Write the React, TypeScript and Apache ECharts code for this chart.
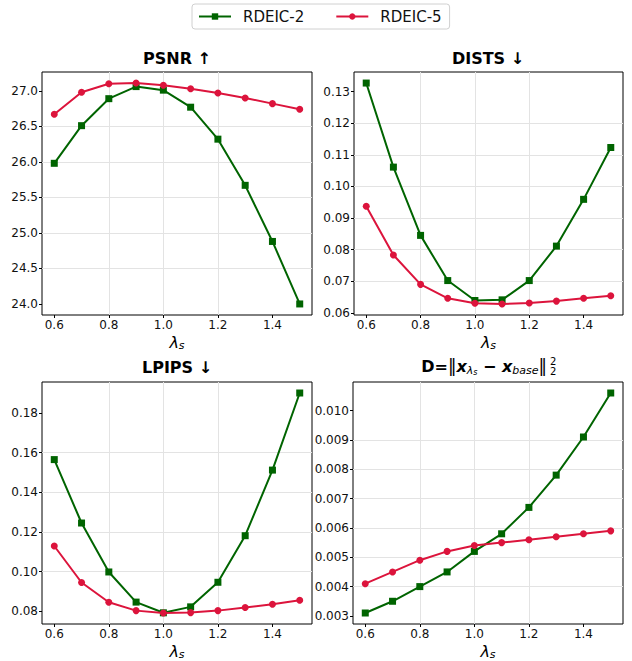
import React, { useEffect, useRef } from "react";
import * as echarts from "echarts";

const lambdas = [0.6, 0.7, 0.8, 0.9, 1.0, 1.1, 1.2, 1.3, 1.4, 1.5];
const seriesNames = ["RDEIC-2", "RDEIC-5"];

const psnr2 = [25.98, 26.51, 26.89, 27.06, 27.01, 26.77, 26.32, 25.67, 24.88, 24.0];
const psnr5 = [26.67, 26.98, 27.1, 27.11, 27.08, 27.03, 26.97, 26.9, 26.82, 26.74];
const dists2 = [0.1327, 0.1061, 0.0845, 0.0702, 0.0639, 0.0641, 0.0702, 0.0811, 0.0959, 0.1123];
const dists5 = [0.0937, 0.0783, 0.069, 0.0646, 0.063, 0.0628, 0.0631, 0.0637, 0.0646, 0.0654];
const lpips2 = [0.1565, 0.1245, 0.0998, 0.0846, 0.0792, 0.0822, 0.0946, 0.1181, 0.1512, 0.1901];
const lpips5 = [0.1129, 0.0945, 0.0845, 0.0803, 0.0791, 0.0793, 0.0803, 0.0819, 0.0835, 0.0855];
const dist2 = [0.0031, 0.0035, 0.004, 0.0045, 0.0052, 0.0058, 0.0067, 0.0078, 0.0091, 0.0106];
const dist5 = [0.0041, 0.0045, 0.0049, 0.0052, 0.0054, 0.0055, 0.0056, 0.0057, 0.0058, 0.0059];

const xTicks = [0.6, 0.8, 1.0, 1.2, 1.4];
const psnrTicks = [24.0, 24.5, 25.0, 25.5, 26.0, 26.5, 27.0];
const distsTicks = [0.06, 0.07, 0.08, 0.09, 0.1, 0.11, 0.12, 0.13];
const lpipsTicks = [0.08, 0.1, 0.12, 0.14, 0.16, 0.18];
const dTicks = [0.003, 0.004, 0.005, 0.006, 0.007, 0.008, 0.009, 0.01];

const panelTitles = ["PSNR ↑", "DISTS ↓", "LPIPS ↓"];

const GREEN = "#006400";
const RED = "#DC143C";
const FONT = "DejaVu Sans";

type Panel = {
  a: number[];
  b: number[];
  ticks: number[];
  decimals: number;
  splitNumber: number;
  grid: { left: number; top: number; width: number; height: number };
};

const panels: Panel[] = [
  { a: psnr2, b: psnr5, ticks: psnrTicks, decimals: 1, splitNumber: 5, grid: { left: 42, top: 72, width: 270, height: 243 } },
  { a: dists2, b: dists5, ticks: distsTicks, decimals: 2, splitNumber: 8, grid: { left: 354, top: 72, width: 269, height: 243 } },
  { a: lpips2, b: lpips5, ticks: lpipsTicks, decimals: 2, splitNumber: 5, grid: { left: 42, top: 382, width: 270, height: 243 } },
  { a: dist2, b: dist5, ticks: dTicks, decimals: 3, splitNumber: 8, grid: { left: 353, top: 382, width: 270, height: 243 } },
];

function buildOption() {
  const xmin0 = Math.min(...lambdas);
  const xmax0 = Math.max(...lambdas);
  const xpad = (xmax0 - xmin0) * 0.05;

  const grids: any[] = [];
  const xAxes: any[] = [];
  const yAxes: any[] = [];
  const series: any[] = [];

  panels.forEach((p, i) => {
    grids.push({ ...p.grid, show: true, borderColor: "#000", borderWidth: 1, backgroundColor: "transparent", containLabel: false });
    xAxes.push({
      type: "value",
      gridIndex: i,
      min: xmin0 - xpad,
      max: xmax0 + xpad,
      splitNumber: 5,
      axisLine: { show: false },
      axisTick: { show: true, length: 3, lineStyle: { color: "#000" }, customValues: xTicks },
      axisLabel: {
        customValues: xTicks,
        formatter: (v: number) => v.toFixed(1),
        fontSize: 12,
        color: "#111",
        fontFamily: FONT,
        margin: 4,
      },
      splitLine: { show: true, showMinLine: false, showMaxLine: false, lineStyle: { color: "#e3e3e3", width: 1 } },
      name: "{l|λ}{s|s}",
      nameLocation: "middle",
      nameGap: 18,
      nameTextStyle: {
        rich: {
          l: { fontSize: 16, fontStyle: "italic", fontFamily: FONT, color: "#000", lineHeight: 18, verticalAlign: "middle" },
          s: { fontSize: 11, fontStyle: "italic", fontFamily: FONT, color: "#000", lineHeight: 12, verticalAlign: "bottom" },
        },
      },
    });
    const all = [...p.a, ...p.b];
    const ymin0 = Math.min(...all);
    const ymax0 = Math.max(...all);
    const ypad = (ymax0 - ymin0) * 0.05;
    yAxes.push({
      type: "value",
      gridIndex: i,
      min: ymin0 - ypad,
      max: ymax0 + ypad,
      splitNumber: p.splitNumber,
      axisLine: { show: false },
      axisTick: { show: true, length: 3, lineStyle: { color: "#000" }, customValues: p.ticks },
      axisLabel: {
        customValues: p.ticks,
        formatter: (v: number) => v.toFixed(p.decimals),
        fontSize: 12,
        color: "#111",
        fontFamily: FONT,
        margin: 4,
      },
      splitLine: { show: true, showMinLine: false, showMaxLine: false, lineStyle: { color: "#e3e3e3", width: 1 } },
    });
    series.push({
      type: "line",
      name: seriesNames[0],
      xAxisIndex: i,
      yAxisIndex: i,
      data: lambdas.map((x, j) => [x, p.a[j]]),
      color: GREEN,
      symbol: "rect",
      symbolSize: 7,
      showAllSymbol: true,
      lineStyle: { width: 2, color: GREEN },
      itemStyle: { color: GREEN },
      z: 3,
    });
    series.push({
      type: "line",
      name: seriesNames[1],
      xAxisIndex: i,
      yAxisIndex: i,
      data: lambdas.map((x, j) => [x, p.b[j]]),
      color: RED,
      symbol: "circle",
      symbolSize: 7,
      showAllSymbol: true,
      lineStyle: { width: 2, color: RED },
      itemStyle: { color: RED },
      z: 4,
    });
  });

  const titleStyle = { fontSize: 16, fontWeight: "bold", fontFamily: FONT, fill: "#000", align: "center", verticalAlign: "middle" };
  const titleCenters = [
    [177, 58],
    [488, 58],
    [177, 367],
  ];
  const graphic: any[] = panelTitles.map((t, i) => ({
    type: "text",
    x: titleCenters[i][0],
    y: titleCenters[i][1],
    style: { ...titleStyle, text: t },
  }));

  graphic.push({
    type: "text",
    x: 547,
    y: 366,
    style: {
      text: "{b|D=}{n|‖}{bi|x}{s1|λ}{s2|s}{b| − }{bi|x}{si|base}{n|‖}",
      align: "right",
      verticalAlign: "middle",
      rich: {
        b: { fontSize: 16, fontWeight: "bold", fontFamily: FONT, fill: "#000", lineHeight: 20, verticalAlign: "middle" },
        n: { fontSize: 17, fontFamily: FONT, fill: "#000", lineHeight: 20, verticalAlign: "middle" },
        bi: { fontSize: 16, fontWeight: "bold", fontStyle: "italic", fontFamily: FONT, fill: "#000", lineHeight: 20, verticalAlign: "middle" },
        s1: { fontSize: 11, fontStyle: "italic", fontFamily: FONT, fill: "#000", lineHeight: 14, verticalAlign: "bottom" },
        s2: { fontSize: 8, fontStyle: "italic", fontFamily: FONT, fill: "#000", lineHeight: 8, verticalAlign: "bottom" },
        si: { fontSize: 11, fontStyle: "italic", fontFamily: FONT, fill: "#000", lineHeight: 14, verticalAlign: "bottom" },
      },
    },
  });
  graphic.push({
    type: "text",
    x: 550,
    y: 361,
    style: { text: "2", fontSize: 10, lineHeight: 9, fontFamily: FONT, fill: "#000", align: "left", verticalAlign: "middle" },
  });
  graphic.push({
    type: "text",
    x: 550,
    y: 371,
    style: { text: "2", fontSize: 10, lineHeight: 9, fontFamily: FONT, fill: "#000", align: "left", verticalAlign: "middle" },
  });

  return {
    animation: false,
    backgroundColor: "#fff",
    textStyle: { fontFamily: FONT },
    legend: {
      data: seriesNames,
      left: 192,
      top: 4,
      padding: [5, 8, 5, 6],
      itemGap: 31,
      itemWidth: 32,
      itemHeight: 8,
      borderColor: "#d0d0d0",
      borderWidth: 1,
      borderRadius: 3,
      textStyle: { fontSize: 15, color: "#111", fontFamily: FONT, padding: [0, 0, 0, 7] },
    },
    grid: grids,
    xAxis: xAxes,
    yAxis: yAxes,
    series,
    graphic,
  };
}

export default function App() {
  const ref = useRef<HTMLDivElement>(null);
  useEffect(() => {
    document.body.style.margin = "0";
    if (!ref.current) return;
    const chart = echarts.init(ref.current, null, { renderer: "svg" });
    chart.setOption(buildOption() as any);
    return () => chart.dispose();
  }, []);
  return <div ref={ref} style={{ width: 632, height: 661 }} />;
}
